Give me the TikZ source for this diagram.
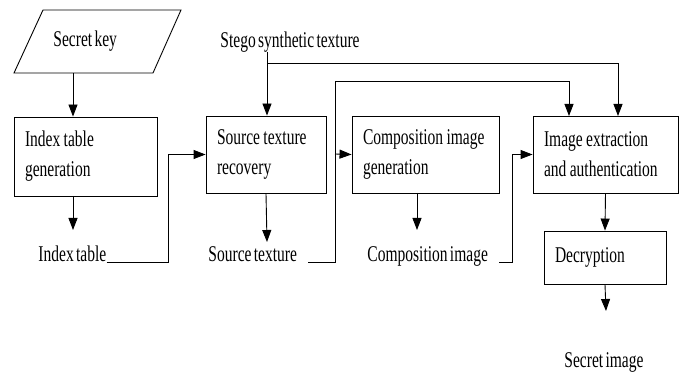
\documentclass[tikz,border=0pt]{standalone}
\usepackage{fontspec}
\setmainfont{Liberation Serif}[FakeStretch=0.69, WordSpace=0.6]
\usetikzlibrary{arrows.meta}
\begin{document}
\begin{tikzpicture}[x=1pt,y=-1pt,
  font=\fontsize{22.5}{30}\selectfont,
  line width=0.9pt,
  arr/.style={-{Triangle[length=12pt,width=9pt]}},
  box/.style={draw, rectangle, inner xsep=11pt, inner ysep=0pt, align=left,
    execute at begin node={\spaceskip=0.15em\relax\xspaceskip=0.15em\relax}},
  lbl/.style={inner sep=0pt, anchor=base west}]
\useasboundingbox (0,0) rectangle (681,374);
% secret key parallelogram
\draw (43,10) -- (181,10) -- (153,73) -- (14,73) -- cycle;
\node[inner sep=0pt, anchor=base west] (key) at (53,47) {Secret key};
\coordinate (keyb) at (73,73);
% boxes
\node[box, minimum width=143pt, minimum height=79pt, text width=121pt] (idx) at (85.5,156.5) {Index table\\generation};
\node[box, minimum width=120pt, minimum height=77pt, text width=98pt] (src) at (266,154.5) {Source texture\\recovery};
\node[box, minimum width=147pt, minimum height=77pt, text width=125pt] (comp) at (425.5,154.5) {Composition image\\generation};
\node[box, minimum width=145pt, minimum height=77pt, text width=123pt] (ext) at (605.5,154.5) {Image extraction\\and authentication};
\node[box, minimum width=122pt, minimum height=53pt, text width=100pt] (dec) at (605,257.5) {Decryption};
% labels
\node[lbl] (st) at (220,48) {Stego synthetic texture};
\node[lbl] (il) at (38,262) {Index table};
\node[lbl] (sl) at (208,262) {Source texture};
\node[lbl] (cl) at (367,262) {Composition image};
\node[lbl] (si) at (564,368) {Secret image};
% coordinates
\coordinate (a1) at (73,230);
\coordinate (a2) at (267,242);
\coordinate (a3) at (417,230);
\coordinate (a4) at (606,311);
\coordinate (idxb) at (73,196);
\coordinate (compb) at (417,193);
\coordinate (stb) at (267,52);
\coordinate (s1) at (267,63);
\coordinate (e2) at (618,116);
\coordinate (e1) at (569,116);
\coordinate (j1) at (168,262);
\coordinate (sle) at (308,262);
\coordinate (j2) at (335,262);
\coordinate (j2t) at (335,81);
\coordinate (j2m) at (335,154);
\coordinate (cle) at (499,262);
\coordinate (j3) at (512,262);
% connectors
\draw[arr] (keyb) -- (keyb |- idx.north);
\draw[arr] (idxb) -- (a1);
\draw[arr] (src.south) -- (a2);
\draw[arr] (compb) -- (a3);
\draw[arr] (ext.south) -- (dec.north);
\draw[arr] (dec.south) -- (a4);
\draw[arr] (stb) -- (stb |- src.north);
\draw[arr] (s1) -| (e2);
\draw[arr] (il.base east) -- (j1) |- (src.west);
\draw[arr] (sle) -- (j2) -- (j2t) -| (e1);
\draw[arr] (j2m) -- (comp.west);
\draw[arr] (cle) -- (j3) |- (ext.west);
\end{tikzpicture}
\end{document}
